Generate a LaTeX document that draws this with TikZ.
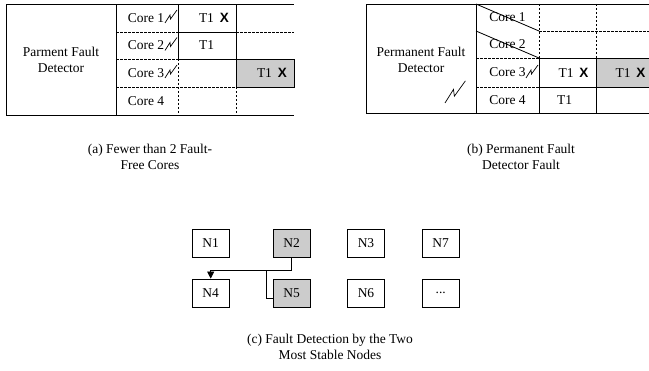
\documentclass[tikz,border=0pt]{standalone}
\usepackage{fontspec}
\setmainfont{Liberation Serif}
\newfontfamily\xsans{Liberation Sans}
\usepackage{tikz}
\usetikzlibrary{arrows.meta}
\definecolor{cellgray}{gray}{0.8}
\newcommand{\tx}{T1\hspace{6pt}{\xsans\bfseries X}}

\begin{document}
\begin{tikzpicture}[x=1pt, y=-1pt, line width=0.8pt,
  txt/.style={font=\fontsize{13.5}{16}\selectfont, inner sep=0pt, align=center},
  rejilla/.style={dash pattern=on 2.5pt off 1.5pt, line width=0.6pt},
  celda/.style={draw},
  gris/.style={draw, fill=cellgray},
  nodo/.style={txt, draw, minimum width=37pt, minimum height=28pt},
  bolt/.pic={\draw[line width=0.7pt] (0,0) -- (5,-8) -- (5.5,-4) -- (12,-13);}
]
  \useasboundingbox (0,0) rectangle (649,371);

  % (a)
  \draw (6,4) rectangle (116,115);
  \draw (116,4) -- (294,4) (116,115) -- (294,115);
  \draw[rejilla] (116,32) -- (178,32) (116,59) -- (178,59) (116,87) -- (294,87)
    (236,32) -- (294,32) (178,59) -- (178,115) (236,87) -- (236,115);
  \draw[celda] (178,4) rectangle (236,32);
  \draw[celda] (178,32) rectangle (236,59);
  \draw[gris] (236,59) rectangle (294,87);
  \node[txt] (pfdA) at (61,60) {Parment Fault\\Detector};
  \node[txt] (a1) at (146,18) {Core 1};
  \node[txt] (a2) at (146,45.5) {Core 2};
  \node[txt] (a3) at (146,73) {Core 3};
  \node[txt] (a4) at (146,101) {Core 4};
  \pic at (165,23) {bolt};
  \pic at (165,50.5) {bolt};
  \pic at (165,78) {bolt};
  \node[txt] (a1t) at (214,18) {\tx};
  \node[txt] (a2t) at (206.5,45.5) {T1};
  \node[txt] (a3t) at (272,73) {\tx};
  \node[txt] (capA) at (150,156.5) {(a) Fewer than 2 Fault-\\Free Cores};

  % (b)
  \draw (366,4) rectangle (476,113);
  \draw (476,4) -- (649,4) (476,113) -- (649,113);
  \draw (476,4) -- (539,31) (476,31) -- (539,58);
  \draw[rejilla] (539,4) -- (539,58) (596,4) -- (596,58) (596,87) -- (596,113)
    (539,31) -- (649,31) (476,58) -- (539,58) (476,87) -- (539,87);
  \draw[celda] (539,58) rectangle (596,87);
  \draw[celda] (539,87) rectangle (596,113);
  \draw[gris] (596,58) rectangle (649,87);
  \node[txt] (pfdB) at (421,60) {Permanent Fault\\Detector};
  \pic[scale=1.7] at (445,103) {bolt};
  \node[txt] (b1) at (507.5,17.5) {Core 1};
  \node[txt] (b2) at (507.5,44.5) {Core 2};
  \node[txt] (b3) at (507.5,72.5) {Core 3};
  \node[txt] (b4) at (507.5,100) {Core 4};
  \pic at (526,78) {bolt};
  \node[txt] (b3t) at (573.5,72.5) {\tx};
  \node[txt] (b4t) at (564.5,100) {T1};
  \node[txt] (b3g) at (630.5,72.5) {\tx};
  \node[txt] (capB) at (521,156.5) {(b) Permanent Fault\\Detector Fault};

  % (c)
  \node[nodo] (N1) at (210.7,243) {N1};
  \node[nodo, fill=cellgray] (N2) at (291.7,243) {N2};
  \node[nodo] (N3) at (366,243) {N3};
  \node[nodo] (N7) at (440.7,243) {N7};
  \node[nodo] (N4) at (210.7,293) {N4};
  \node[nodo, fill=cellgray] (N5) at (291.7,293) {N5};
  \node[nodo] (N6) at (366,293) {N6};
  \node[nodo] (Nx) at (440.7,293) {...};
  \coordinate (codo) at (291.7,270);
  \coordinate (toma) at (266.7,270);
  \draw[-{Triangle[width=7pt,length=7pt]}] (N2.south) -- (codo) -| (N4.north);
  \draw ([yshift=-5pt]N5.west) -| (toma);
  \node[txt] (capC) at (330,347) {(c) Fault Detection by the Two\\Most Stable Nodes};
\end{tikzpicture}
\end{document}
